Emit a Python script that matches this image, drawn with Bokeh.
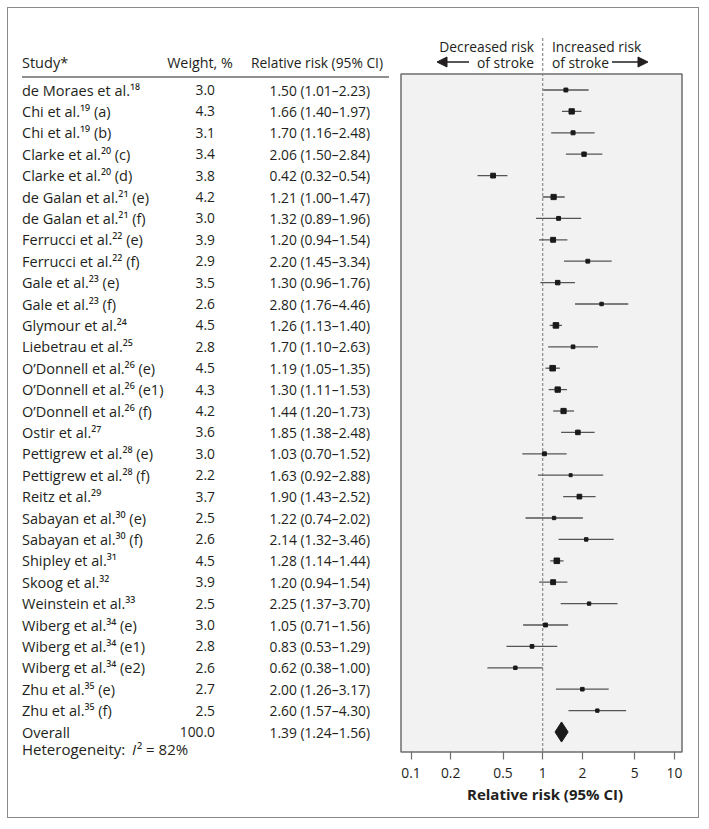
from bokeh.plotting import figure
from bokeh.models import (Range1d, LinearScale, ColumnDataSource, Arrow, NormalHead,
                          FixedTicker, NumeralTickFormatter, Title)
from bokeh.core.properties import value
from bokeh.embed import file_html
from bokeh.resources import INLINE

# ---------------- data ----------------
studies = ["de Moraes et al.¹⁸", "Chi et al.¹⁹ (a)", "Chi et al.¹⁹ (b)", "Clarke et al.²⁰ (c)",
           "Clarke et al.²⁰ (d)", "de Galan et al.²¹ (e)", "de Galan et al.²¹ (f)",
           "Ferrucci et al.²² (e)", "Ferrucci et al.²² (f)", "Gale et al.²³ (e)", "Gale et al.²³ (f)",
           "Glymour et al.²⁴", "Liebetrau et al.²⁵", "O’Donnell et al.²⁶ (e)", "O’Donnell et al.²⁶ (e1)",
           "O’Donnell et al.²⁶ (f)", "Ostir et al.²⁷", "Pettigrew et al.²⁸ (e)", "Pettigrew et al.²⁸ (f)",
           "Reitz et al.²⁹", "Sabayan et al.³⁰ (e)", "Sabayan et al.³⁰ (f)", "Shipley et al.³¹",
           "Skoog et al.³²", "Weinstein et al.³³", "Wiberg et al.³⁴ (e)", "Wiberg et al.³⁴ (e1)",
           "Wiberg et al.³⁴ (e2)", "Zhu et al.³⁵ (e)", "Zhu et al.³⁵ (f)"]
weights = [3.0, 4.3, 3.1, 3.4, 3.8, 4.2, 3.0, 3.9, 2.9, 3.5, 2.6, 4.5, 2.8, 4.5, 4.3,
           4.2, 3.6, 3.0, 2.2, 3.7, 2.5, 2.6, 4.5, 3.9, 2.5, 3.0, 2.8, 2.6, 2.7, 2.5]
rr = [1.50, 1.66, 1.70, 2.06, 0.42, 1.21, 1.32, 1.20, 2.20, 1.30, 2.80, 1.26, 1.70, 1.19, 1.30,
      1.44, 1.85, 1.03, 1.63, 1.90, 1.22, 2.14, 1.28, 1.20, 2.25, 1.05, 0.83, 0.62, 2.00, 2.60]
ci_low = [1.01, 1.40, 1.16, 1.50, 0.32, 1.00, 0.89, 0.94, 1.45, 0.96, 1.76, 1.13, 1.10, 1.05, 1.11,
          1.20, 1.38, 0.70, 0.92, 1.43, 0.74, 1.32, 1.14, 0.94, 1.37, 0.71, 0.53, 0.38, 1.26, 1.57]
ci_high = [2.23, 1.97, 2.48, 2.84, 0.54, 1.47, 1.96, 1.54, 3.34, 1.76, 4.46, 1.40, 2.63, 1.35, 1.53,
           1.73, 2.48, 1.52, 2.88, 2.52, 2.02, 3.46, 1.44, 1.54, 3.70, 1.56, 1.29, 1.00, 3.17, 4.30]
overall_weight = 100.0
overall_rr = 1.39
overall_low = 1.24
overall_high = 1.56
i_squared = 82
axis_ticks = [0.1, 0.2, 0.5, 1, 2, 5, 10]
column_headers = ["Study*", "Weight, %", "Relative risk (95% CI)"]
axis_title = "Relative risk (95% CI)"

# ---------------- styling constants ----------------
FONT = value("Open Sans")
FS_NAME = value("14.5px")
FS_NUM = value("13.8px")
TXT = "#231f20"
GRAY = "#6d6d6d"

n = len(studies)
rows = list(range(n))
overall_row = n

# canvas placement (page pixels): canvas origin at 8.5, frame covers everything above the axis
OX = 8.5
W, H = 692, 811
FRAME_BOTTOM = 759.5
row0, row_h = 90.0, 21.4           # page y of first row, row pitch
x1_px, decade_px = 542.7, 131.7    # page x of RR = 1, pixels per decade

lx0 = 10 ** ((OX - x1_px) / decade_px)
lx1 = 10 ** ((OX + W - x1_px) / decade_px)
y_top = (OX - row0) / row_h
y_bot = (FRAME_BOTTOM - row0) / row_h

p = figure(width=W, height=H, x_axis_type="log",
           x_range=Range1d(lx0, lx1), y_range=Range1d(y_bot, y_top),
           output_backend="svg", toolbar_location=None, y_axis_location=None,
           min_border_left=0, min_border_right=0, min_border_top=0,
           min_border_bottom=int(round(OX + H - FRAME_BOTTOM)),
           styles={"margin": "7px 0 0 7px", "border": "1.5px solid #8a8a8a"})
p.extra_x_ranges = {"px": Range1d(OX, OX + W)}
p.extra_x_scales = {"px": LinearScale()}
p.extra_y_ranges = {"px": Range1d(FRAME_BOTTOM, OX)}
p.extra_y_scales = {"px": LinearScale()}

p.grid.visible = False
p.background_fill_color = "white"
p.border_fill_color = "white"
p.outline_line_color = None

ax = p.xaxis[0]
ax.ticker = FixedTicker(ticks=axis_ticks)
ax.formatter = NumeralTickFormatter(format="0.[0]")
ax.minor_tick_line_color = None
ax.major_tick_in = 8
ax.major_tick_out = 0
ax.major_tick_line_color = GRAY
ax.major_tick_line_width = 1.2
ax.axis_line_color = None
ax.major_label_text_font = "Open Sans"
ax.major_label_text_font_size = "13.8px"
ax.major_label_text_color = TXT
ax.major_label_standoff = 8

# axis title, centred under the grey panel
p.add_layout(Title(text=axis_title, align="left", offset=467 - OX, standoff=2,
                   text_font="Open Sans", text_font_size="15px", text_font_style="bold",
                   text_color=TXT), "below")

# grey panel
p.quad(left=[401], right=[682], top=[74], bottom=[752], x_range_name="px", y_range_name="px",
       fill_color="#f2f2f2", line_color=GRAY, line_width=1.5)

# reference line at RR = 1 (extends above the panel)
p.segment(x0=[1], y0=[38], x1=[1], y1=[752], y_range_name="px",
          line_color="#8a8a8a", line_width=1.2, line_dash="3 2")

# CI lines and squares
pts = ColumnDataSource(dict(y=rows, rr=rr, lo=ci_low, hi=ci_high,
                            size=[1.1 * w + 0.6 for w in weights]))
p.segment(x0="lo", y0="y", x1="hi", y1="y", source=pts, line_color="#555555", line_width=1.3)
p.scatter(x="rr", y="y", size="size", marker="square", source=pts,
          fill_color="#1a1a1a", line_color="#1a1a1a")

# overall diamond
dh = 0.47
p.patch(x=[overall_low, overall_rr, overall_high, overall_rr],
        y=[overall_row, overall_row - dh, overall_row, overall_row + dh],
        fill_color="#1a1a1a", line_color="#1a1a1a")

# ---------------- table ----------------
tbl = ColumnDataSource(dict(
    y=rows + [overall_row],
    study=studies + ["Overall"],
    weight=[f"{w:.1f}" for w in weights] + [f"{overall_weight:.1f}"],
    rrtxt=[f"{r:.2f} ({a:.2f}–{b:.2f})" for r, a, b in zip(rr, ci_low, ci_high)]
          + [f"{overall_rr:.2f} ({overall_low:.2f}–{overall_high:.2f})"],
))
common = dict(source=tbl, x_range_name="px", text_baseline="middle",
              text_font=FONT, text_color=TXT)
p.text(x=22, y="y", text="study", text_align="left", text_font_size=FS_NAME, **common)
p.text(x=215, y="y", text="weight", text_align="right", text_font_size=FS_NUM, **common)
p.text(x=370, y="y", text="rrtxt", text_align="right", text_font_size=FS_NUM, **common)


def lab(text, x, y, align="left", style="normal", size=FS_NAME):
    p.text(x=[x], y=[y], text=[text], x_range_name="px", y_range_name="px",
           text_align=align, text_baseline="middle", text_font=FONT, text_font_size=size,
           text_color=TXT, text_font_style=style)


lab("Heterogeneity:", 22, 749, size=value("15px"))
lab("I", 132, 749, style="italic", size=value("15px"))
lab(f"² = {i_squared}%", 137, 749, size=value("15px"))

# column headers
lab(column_headers[0], 22, 62)
lab(column_headers[1], 200, 62, "center", size=value("14.3px"))
lab(column_headers[2], 317, 62, "center", size=value("13.8px"))
p.segment(x0=[22], y0=[77], x1=[389], y1=[77], x_range_name="px", y_range_name="px",
          line_color=TXT, line_width=1)

# direction captions
lab("Decreased risk", 534, 46, "right", size=value("13.8px"))
lab("of stroke", 534, 62, "right", size=value("13.8px"))
lab("Increased risk", 552, 46, "left", size=value("13.8px"))
lab("of stroke", 552, 62, "left", size=value("13.8px"))
for xs, xe in [(469, 437), (612, 648)]:
    p.add_layout(Arrow(end=NormalHead(size=10, fill_color=TXT, line_color=TXT),
                       x_start=xs, x_end=xe, y_start=62, y_end=62,
                       x_range_name="px", y_range_name="px", line_color=TXT, line_width=1.3))

open("out.html", "w").write(file_html(p, INLINE))
